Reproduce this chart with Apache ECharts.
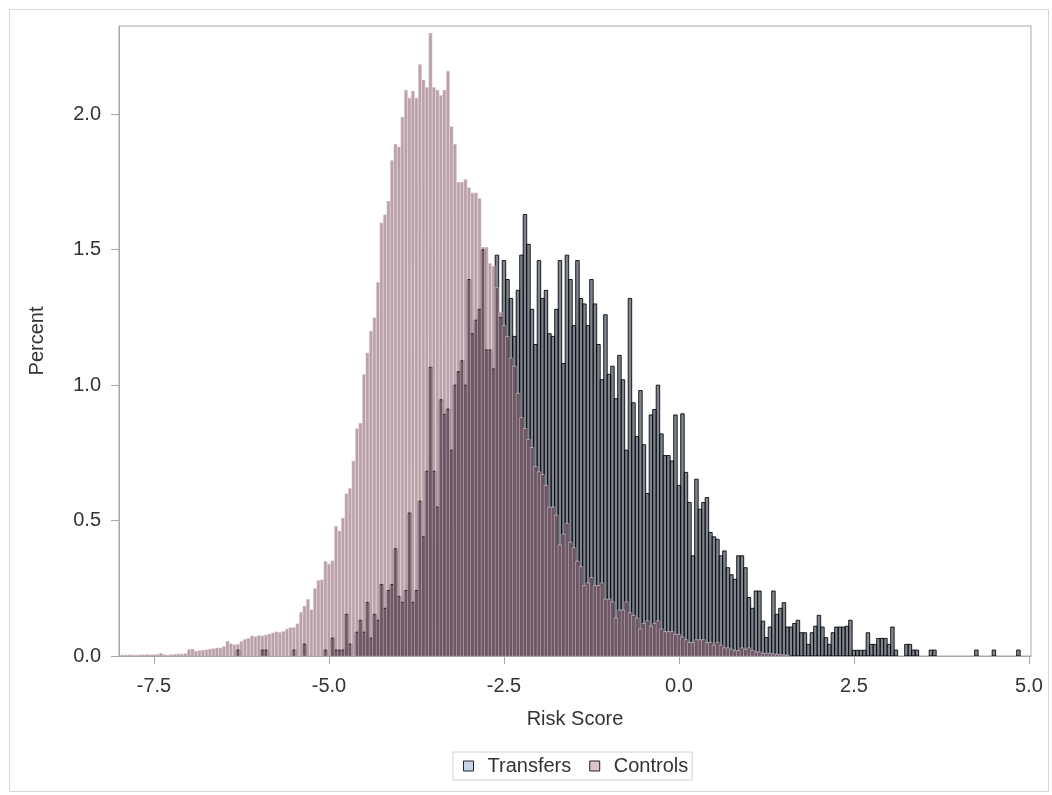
<!DOCTYPE html>
<html>
<head>
<meta charset="utf-8">
<script src="https://cdn.jsdelivr.net/npm/echarts@6/dist/echarts.min.js"></script>
<style>html,body{margin:0;padding:0;background:#fff;}#c{width:1052px;height:795px;}</style>
</head>
<body>
<div id="c"></div>
<script>
// Histogram bins: width 0.05, midpoints at multiples of 0.05
var binWidth = 0.05;
var controlsFirstMid = -7.95;
var controlsPct = [
0.004,0.004,0.005,0.004,0.004,0.005,0.005,0.006,0.005,0.006,
0.006,0.011,0.006,0.004,0.006,0.007,0.008,0.008,0.010,0.025,
0.026,0.018,0.020,0.022,0.024,0.026,0.028,0.030,0.030,0.036,
0.055,0.046,0.042,0.044,0.055,0.062,0.066,0.075,0.072,0.076,
0.075,0.078,0.082,0.086,0.090,0.088,0.092,0.100,0.105,0.106,
0.120,0.162,0.185,0.210,0.172,0.250,0.280,0.282,0.350,0.340,
0.352,0.480,0.462,0.510,0.600,0.620,0.720,0.840,0.860,1.040,
1.120,1.200,1.250,1.380,1.600,1.630,1.680,1.830,1.890,1.880,
1.990,2.090,2.060,2.086,2.060,2.185,2.127,2.100,2.300,2.100,
2.090,2.070,2.090,2.160,1.955,1.890,1.750,1.750,1.760,1.730,
1.710,1.710,1.690,1.510,1.510,1.450,1.440,1.360,1.270,1.220,
1.180,1.100,1.070,0.970,0.880,0.840,0.800,0.770,0.700,0.680,
0.670,0.630,0.550,0.550,0.520,0.410,0.450,0.490,0.420,0.400,
0.350,0.330,0.260,0.270,0.290,0.260,0.260,0.270,0.210,0.210,
0.200,0.140,0.170,0.170,0.200,0.160,0.150,0.140,0.100,0.120,
0.130,0.110,0.120,0.130,0.100,0.090,0.090,0.090,0.080,0.080,
0.070,0.060,0.050,0.050,0.060,0.060,0.060,0.050,0.050,0.040,
0.050,0.040,0.030,0.030,0.025,0.020,0.020,0.030,0.025,0.030,
0.020,0.015,0.015,0.010,0.010,0.010,0.008,0.006,0.005,0.004,
0.003
];
var transfersFirstMid = -6.30;
var transfersPct = [
0.022,0,0,0,0,0,0,0.022,0.022,0,
0,0,0,0,0,0,0.022,0,0,0.044,
0,0,0,0,0,0.022,0,0.066,0.022,0.022,
0.022,0.154,0.044,0,0.088,0.132,0.088,0.198,0.066,0.154,
0.132,0.264,0.176,0.242,0.264,0.396,0.220,0.198,0.242,0.528,
0.198,0.242,0.572,0.440,0.682,1.066,0.682,0.550,0.946,0.892,
0.912,0.760,1.000,1.050,1.090,1.000,1.390,1.190,1.240,1.280,
1.500,1.130,1.130,1.060,1.480,1.250,1.460,1.390,1.320,1.180,
1.350,1.480,1.630,1.520,1.280,1.150,1.460,1.320,1.350,1.190,
1.180,1.280,1.460,1.080,1.480,1.390,1.220,1.460,1.320,1.300,
1.220,1.390,1.300,1.150,1.020,1.260,1.040,1.070,0.950,1.110,
1.020,0.760,1.320,0.935,0.810,0.980,0.780,0.600,0.890,0.910,
1.000,0.820,0.740,0.740,0.720,0.890,0.630,0.894,0.678,0.567,
0.370,0.653,0.542,0.567,0.585,0.456,0.440,0.431,0.370,0.388,
0.326,0.300,0.283,0.370,0.370,0.326,0.216,0.176,0.240,0.240,
0.129,0.068,0.107,0.240,0.154,0.176,0.197,0.107,0.107,0.120,
0.132,0.086,0.086,0.043,0.086,0.110,0.150,0.107,0.068,0.043,
0.086,0.107,0.107,0.107,0.110,0.132,0.021,0.021,0.021,0.021,
0.086,0.043,0.043,0.065,0.065,0.065,0.043,0.107,0.022,0,
0,0.043,0.043,0.022,0.022,0,0,0,0.022,0.022,
0,0,0,0,0,0,0,0,0,0,
0,0.022,0,0,0,0,0.022,0,0,0,
0,0,0,0.022
];
var xTicks = [-7.5, -5.0, -2.5, 0.0, 2.5, 5.0];
var yTicks = [0.0, 0.5, 1.0, 1.5, 2.0];
var seriesNames = ['Transfers', 'Controls'];

function toPairs(first, vals) {
  var out = [];
  for (var i = 0; i < vals.length; i++) {
    out.push([+(first + i * binWidth).toFixed(3), vals[i]]);
  }
  return out;
}

function barRenderer(style) {
  return function (params, api) {
    var x = api.value(0), y = api.value(1);
    if (!y) return null;
    var p0 = api.coord([x - binWidth / 2, y]);
    var p1 = api.coord([x + binWidth / 2, 0]);
    return {
      type: 'rect',
      shape: { x: p0[0], y: p0[1], width: p1[0] - p0[0], height: p1[1] - p0[1] },
      style: style
    };
  };
}

var chart = echarts.init(document.getElementById('c'), null, { renderer: 'canvas' });
var fontFam = '"Liberation Sans", Arial, sans-serif';
var axisGray = '#a4a8ac';
var textColor = '#333';

chart.setOption({
  backgroundColor: '#fff',
  animation: false,
  graphic: [{
    type: 'rect', left: 7, top: 7,
    shape: { width: 1039, height: 782 },
    style: { fill: 'none', stroke: '#d6d6d6', lineWidth: 1 },
    silent: true
  }],
  grid: { left: 119, right: 21, top: 26, bottom: 139, show: true, borderColor: axisGray, borderWidth: 1, backgroundColor: 'transparent' },
  legend: {
    left: 453, top: 752,
    orient: 'horizontal',
    padding: [4, 4, 4, 10],
    borderColor: '#d0d0d0', borderWidth: 1,
    itemWidth: 10, itemHeight: 10, itemGap: 18,
    icon: 'rect',
    textStyle: { fontFamily: fontFam, fontSize: 20, color: textColor, padding: [0, 0, 0, 9] },
    data: [
      { name: 'Transfers', itemStyle: { color: '#c6d4e6', borderColor: '#222', borderWidth: 1 } },
      { name: 'Controls', itemStyle: { color: '#dcc5ca', borderColor: '#222', borderWidth: 1 } }
    ]
  },
  xAxis: {
    type: 'value', min: -8.0, max: 5.03,
    name: 'Risk Score', nameLocation: 'middle', nameGap: 53,
    nameTextStyle: { fontFamily: fontFam, fontSize: 20, color: textColor },
    axisLine: { show: true, onZero: false, lineStyle: { color: axisGray } },
    axisTick: { show: true, length: 8, lineStyle: { color: axisGray }, customValues: xTicks },
    axisLabel: { fontFamily: fontFam, fontSize: 20, color: textColor, margin: 20, customValues: xTicks,
      formatter: function (v) { return v.toFixed(1); } },
    splitLine: { show: false }
  },
  yAxis: {
    type: 'value', min: 0, max: 2.326,
    name: 'Percent', nameLocation: 'middle', nameGap: 72, nameRotate: 90,
    nameTextStyle: { fontFamily: fontFam, fontSize: 20, color: textColor },
    axisLine: { show: true, onZero: false, lineStyle: { color: axisGray } },
    axisTick: { show: true, length: 8, lineStyle: { color: axisGray }, customValues: yTicks },
    axisLabel: { fontFamily: fontFam, fontSize: 20, color: textColor, margin: 18, customValues: yTicks,
      formatter: function (v) { return v.toFixed(1); } },
    splitLine: { show: false }
  },
  series: [
    {
      name: seriesNames[0], type: 'custom', clip: true, z: 2,
      itemStyle: { color: '#c6d4e6' },
      renderItem: barRenderer({ fill: 'rgba(60,70,85,0.66)', stroke: 'rgba(0,0,0,0.85)', lineWidth: 1 }),
      encode: { x: 0, y: 1 },
      data: toPairs(transfersFirstMid, transfersPct)
    },
    {
      name: seriesNames[1], type: 'custom', clip: true, z: 3,
      itemStyle: { color: '#dcc5ca' },
      renderItem: barRenderer({ fill: 'rgba(80,20,40,0.40)', stroke: 'rgba(255,240,245,0.45)', lineWidth: 1 }),
      encode: { x: 0, y: 1 },
      data: toPairs(controlsFirstMid, controlsPct)
    }
  ]
});
</script>
</body>
</html>
